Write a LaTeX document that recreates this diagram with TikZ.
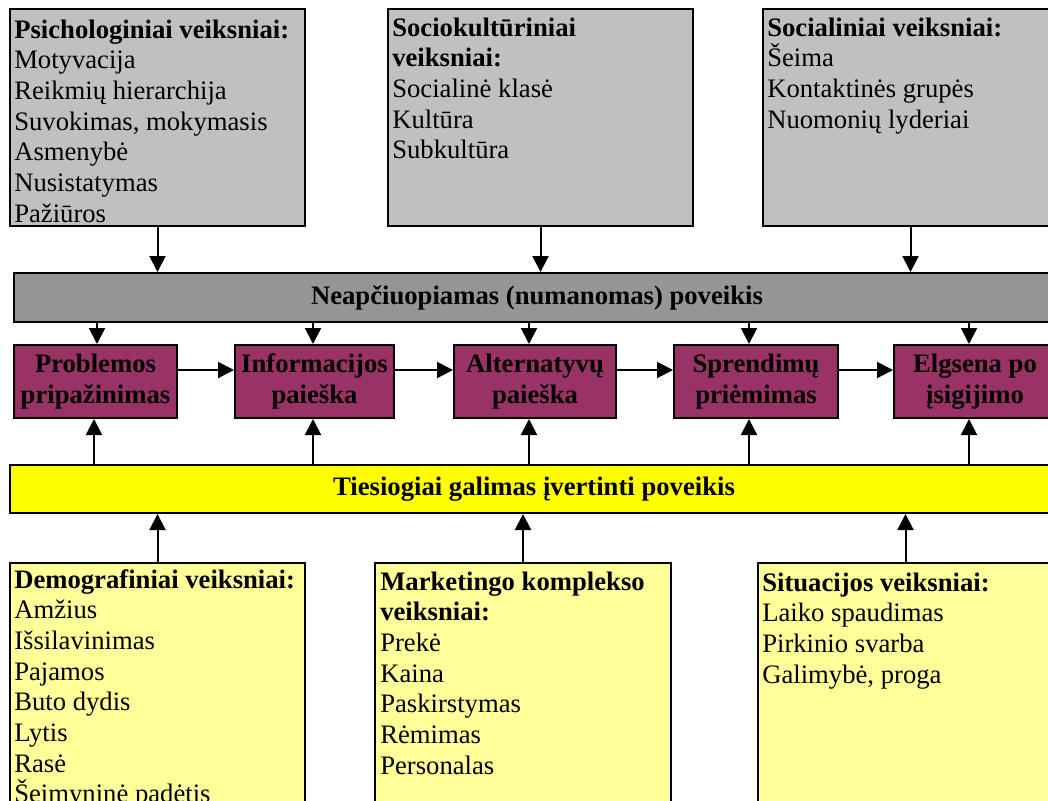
\documentclass[tikz,border=0pt]{standalone}
\usepackage{fontspec}
\setmainfont{Liberation Serif}
\usetikzlibrary{arrows.meta,calc}
\newdimen\pxu \pxu=0.75pt
\definecolor{factorgray}{HTML}{C0C0C0}
\definecolor{bargray}{HTML}{969696}
\definecolor{stagepurple}{HTML}{993366}
\definecolor{baryellow}{HTML}{FFFF00}
\definecolor{factoryellow}{HTML}{FFFF99}
\begin{document}
\begin{tikzpicture}[x=0.75pt,y=-0.75pt,
  box/.style={draw=black, line width=1.5pt, rectangle, inner sep=0pt},
  factor/.style={box, minimum height=217\pxu},
  stage/.style={box, fill=stagepurple, minimum height=73\pxu, align=center,
    font=\fontsize{20pt}{23pt}\selectfont\bfseries},
  bar/.style={box, minimum width=1048\pxu, minimum height=48\pxu,
    font=\fontsize{20pt}{23pt}\selectfont\bfseries},
  txt/.style={anchor=north west, inner sep=0pt, align=left,
    font=\fontsize{20pt}{23pt}\selectfont},
  arr/.style={line width=1.5pt, -{Triangle[width=12pt,length=12pt]}}]
\useasboundingbox (0,0) rectangle (1048,800);
\fill[white] (0,0) rectangle (1048,800);
\clip (0,0) rectangle (1048,800);

% factor groups above
\node[factor, fill=factorgray, minimum width=295\pxu] (t1) at (157.5,117.5) {};
\node[factor, fill=factorgray, minimum width=305\pxu] (t2) at (540.5,117.5) {};
\node[factor, fill=factorgray, minimum width=295\pxu] (t3) at (910.5,117.5) {};
\node[txt] (t1t) at ($(t1.north west)+(5,3)$) {\rule{0pt}{20.25pt}\textbf{Psichologiniai veiksniai:}\\
  Motyvacija\\Reikmių hierarchija\\Suvokimas, mokymasis\\Asmenybė\\Nusistatymas\\Pažiūros};
\node[txt] (t2t) at ($(t2.north west)+(5,1)$) {\rule{0pt}{20.25pt}\textbf{Sociokultūriniai}\\
  \textbf{veiksniai:}\\Socialinė klasė\\Kultūra\\Subkultūra};
\node[txt] (t3t) at ($(t3.north west)+(5,1)$) {\rule{0pt}{20.25pt}\textbf{Socialiniai veiksniai:}\\
  Šeima\\Kontaktinės grupės\\Nuomonių lyderiai};

% influence bars
\node[bar, fill=bargray, minimum width=1046\pxu, minimum height=49\pxu] (gray) at (537,297.5)
  {\raisebox{3pt}{Neapčiuopiamas (numanomas) poveikis}};
\node[bar, fill=baryellow] (yel) at (534,489)
  {\raisebox{4pt}{Tiesiogiai galimas įvertinti poveikis}};

% decision stages
\node[stage, minimum width=163\pxu] (p1) at (95.5,381.5) {\rule{0pt}{14pt}Problemos\\pripažinimas};
\node[stage, minimum width=159\pxu] (p2) at (314.5,381.5) {\rule{0pt}{14pt}Informacijos\\paieška};
\node[stage, minimum width=162\pxu] (p3) at (535,381.5) {\rule{0pt}{14pt}Alternatyvų\\paieška};
\node[stage, minimum width=164\pxu] (p4) at (756,381.5) {\rule{0pt}{14pt}Sprendimų\\priėmimas};
\node[stage, minimum width=162\pxu] (p5) at (975,381.5) {\rule{0pt}{14pt}Elgsena po\\įsigijimo};

% factor groups below
\node[factor, fill=factoryellow, minimum width=295\pxu, minimum height=270\pxu, anchor=north] (b1) at (157.5,562) {};
\node[factor, fill=factoryellow, minimum width=296\pxu, minimum height=270\pxu, anchor=north] (b2) at (523,562) {};
\node[factor, fill=factoryellow, minimum width=295\pxu, minimum height=270\pxu, anchor=north] (b3) at (905.5,562) {};
\node[txt] (b1t) at ($(b1.north west)+(5,-1)$) {\rule{0pt}{20.25pt}\textbf{Demografiniai veiksniai:}\\
  Amžius\\Išsilavinimas\\Pajamos\\Buto dydis\\Lytis\\Rasė\\Šeimyninė padėtis};
\node[txt] (b2t) at ($(b2.north west)+(6,1)$) {\rule{0pt}{20.25pt}\textbf{Marketingo komplekso}\\
  \textbf{veiksniai:}\\Prekė\\Kaina\\Paskirstymas\\Rėmimas\\Personalas};
\node[txt] (b3t) at ($(b3.north west)+(5,2)$) {\rule{0pt}{20.25pt}\textbf{Situacijos veiksniai:}\\
  Laiko spaudimas\\Pirkinio svarba\\Galimybė, proga};

% arrows from the upper factors into the gray bar
\foreach \t in {t1,t2,t3}
  \draw[arr] (\t.south) -- (\t.south |- gray.north);

% arrows from the bars into the stages
\foreach \p/\dx/\dy in {p1/1.5/-1.5, p2/-1.5/-1.5, p3/-6/-6, p4/-7/-7, p5/-6/-6} {
  \coordinate (\p top) at ($(\p.north)+(\dx,0)$);
  \coordinate (\p bot) at ($(\p.south)+(\dy,0)$);
  \draw[arr] (\p top |- gray.south) -- (\p top);
  \draw[arr] (\p bot |- yel.north) -- (\p bot);
}

% flow between stages
\foreach \a/\b in {p1/p2, p2/p3, p3/p4, p4/p5}
  \draw[arr] ($(\a.east)+(0,-11.5)$) -- ($(\b.west)+(0,-11.5)$);

% arrows from the lower factors into the yellow bar
\foreach \b in {b1,b2,b3}
  \draw[arr] (\b.north) -- (\b.north |- yel.south);
\end{tikzpicture}
\end{document}
